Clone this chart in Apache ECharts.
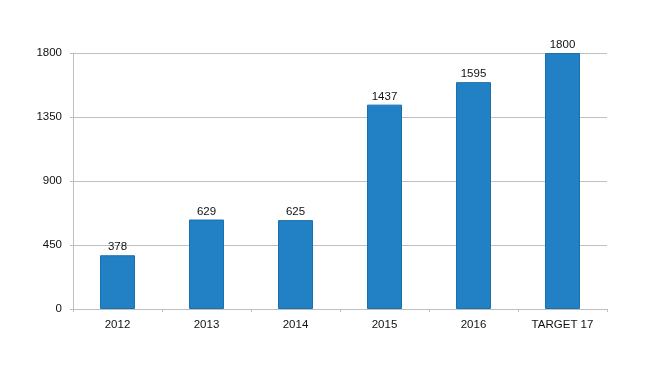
<!DOCTYPE html>
<html><head><meta charset="utf-8">
<script src="https://cdn.jsdelivr.net/npm/echarts@6/dist/echarts.min.js"></script>
<style>html,body{margin:0;padding:0;background:#fff}#c{width:667px;height:374px}</style>
</head><body><div id="c"></div>
<script>
var categories = ['2012','2013','2014','2015','2016','TARGET 17'];
var values = [378, 629, 625, 1437, 1595, 1800];
var yTicks = [0, 450, 900, 1350, 1800];

var FONT = 'Liberation Sans';
var chart = echarts.init(document.getElementById('c'), null, {renderer:'canvas'});
chart.setOption({
  animation:false,
  backgroundColor:'#fff',
  grid:{left:73, right:60, top:53, bottom:65, containLabel:false},
  xAxis:{type:'category', data:categories,
    axisLine:{lineStyle:{color:'#bfbfbf', width:1}},
    axisTick:{show:true, length:3, lineStyle:{color:'#bfbfbf'}},
    axisLabel:{color:'#111', fontFamily:FONT, fontSize:11.5, margin:10}
  },
  yAxis:{type:'value', min:yTicks[0], max:yTicks[yTicks.length-1], interval:450,
    axisLine:{show:true, lineStyle:{color:'#bfbfbf', width:1}},
    axisTick:{show:true, length:3, lineStyle:{color:'#bfbfbf'}},
    splitLine:{lineStyle:{color:'#bfbfbf', width:1}},
    axisLabel:{color:'#111', fontFamily:FONT, fontSize:11.5, margin:11,
      formatter:function(v){return String(v);}}
  },
  series:[{type:'bar', data:values, barWidth:35,
    itemStyle:{color:'#2281c4', borderColor:'#1a6fae', borderWidth:1},
    label:{show:true, position:'top', distance:2, color:'#111', fontFamily:FONT, fontSize:11.5}
  }]
});
</script></body></html>
